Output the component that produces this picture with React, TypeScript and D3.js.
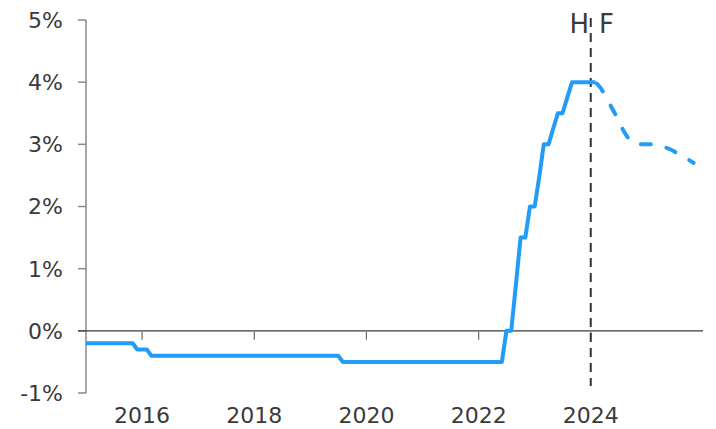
import React from "react";
import * as d3 from "d3";

// Historical rate (month, value %)
const histMonths = [
  "2015-01", "2015-11", "2015-12", "2016-02", "2016-03", "2019-07", "2019-08",
  "2022-06", "2022-07", "2022-08", "2022-09", "2022-10", "2022-11", "2022-12",
  "2023-01", "2023-02", "2023-03", "2023-04", "2023-05", "2023-06", "2023-07",
  "2023-08", "2023-09", "2023-10", "2023-11", "2023-12", "2024-01", "2024-02",
];
const histValues = [
  -0.2, -0.2, -0.3, -0.3, -0.4, -0.4, -0.5,
  -0.5, 0.0, 0.0, 0.75, 1.5, 1.5, 2.0,
  2.0, 2.5, 3.0, 3.0, 3.25, 3.5, 3.5,
  3.75, 4.0, 4.0, 4.0, 4.0, 4.0, 4.0,
];

// Forecast (month, value %)
const fcstMonths = [
  "2024-02", "2024-03", "2024-04", "2024-05", "2024-06", "2024-07", "2024-08",
  "2024-09", "2024-10", "2024-11", "2024-12", "2025-01", "2025-02", "2025-03",
  "2025-04", "2025-05", "2025-06", "2025-07", "2025-08", "2025-09", "2025-10", "2025-11",
];
const fcstValues = [
  4.0, 3.92, 3.8, 3.66, 3.52, 3.38, 3.22,
  3.1, 3.02, 3.0, 3.0, 3.0, 3.0, 2.99,
  2.97, 2.95, 2.92, 2.88, 2.84, 2.79, 2.75, 2.7,
];

const yTicks = [-1, 0, 1, 2, 3, 4, 5];
const xTickYears = [2016, 2018, 2020, 2022, 2024];
const splitDate = "2024-01";

const parse = d3.timeParse("%Y-%m");

export default function App() {
  const W = 716;
  const H = 429;
  const x = d3
    .scaleTime()
    .domain([new Date(2015, 0, 1), new Date(2026, 0, 1)])
    .range([86, 703]);
  const y = d3.scaleLinear().domain([-1, 5]).range([393, 20]);

  const hist = histMonths.map((m, i) => ({ d: parse(m) as Date, v: histValues[i] }));
  const fcst = fcstMonths.map((m, i) => ({ d: parse(m) as Date, v: fcstValues[i] }));

  const line = d3
    .line<{ d: Date; v: number }>()
    .x((p) => x(p.d))
    .y((p) => y(p.v));
  const fline = d3
    .line<{ d: Date; v: number }>()
    .x((p) => x(p.d))
    .y((p) => y(p.v))
    .curve(d3.curveMonotoneX);

  const font = "'DejaVu Sans', Verdana, sans-serif";
  const textColor = "#3a3a3a";
  const xs = x(parse(splitDate) as Date);

  return (
    <svg
      width={W}
      height={H}
      style={{ position: "absolute", left: 0, top: 0 }}
      fontFamily={font}
    >
      <rect width={W} height={H} fill="#fff" />
      {/* y axis */}
      <line x1={86} x2={86} y1={y(5)} y2={y(-1)} stroke="#8a8a8a" strokeWidth={1.5} />
      {yTicks.map((t) => (
        <g key={t}>
          <line x1={78} x2={86} y1={y(t)} y2={y(t)} stroke="#8a8a8a" strokeWidth={1.5} />
          <text
            x={63}
            y={y(t)}
            dy="0.36em"
            textAnchor="end"
            fontSize={22}
            fill={textColor}
          >
            {`${t}%`}
          </text>
        </g>
      ))}
      {/* x ticks */}
      {xTickYears.map((yr) => {
        const px = x(new Date(yr, 0, 1));
        return (
          <g key={yr}>
            <line x1={px} x2={px} y1={y(0) + 1} y2={y(0) + 9} stroke="#6a6a6a" strokeWidth={1.2} />
            <text x={px} y={423} textAnchor="middle" fontSize={22} fill={textColor}>
              {yr}
            </text>
          </g>
        );
      })}
      {/* zero line */}
      <line x1={78} x2={703} y1={y(0)} y2={y(0)} stroke="#3a3a3a" strokeWidth={1.3} />
      {/* split line */}
      <line
        x1={xs}
        x2={xs}
        y1={18}
        y2={386}
        stroke="#333"
        strokeWidth={2}
        strokeDasharray="9,6"
      />
      <text x={589} y={33} textAnchor="end" fontSize={26} fill={textColor}>
        H
      </text>
      <text x={599} y={33} textAnchor="start" fontSize={26} fill={textColor}>
        F
      </text>
      {/* series */}
      <path d={line(hist) || ""} fill="none" stroke="#229cf6" strokeWidth={4} strokeLinejoin="round" />
      <path
        d={fline(fcst) || ""}
        fill="none"
        stroke="#229cf6"
        strokeWidth={4}
        strokeLinecap="round"
        strokeDasharray="10,16"
        strokeDashoffset={-2}
      />
    </svg>
  );
}
